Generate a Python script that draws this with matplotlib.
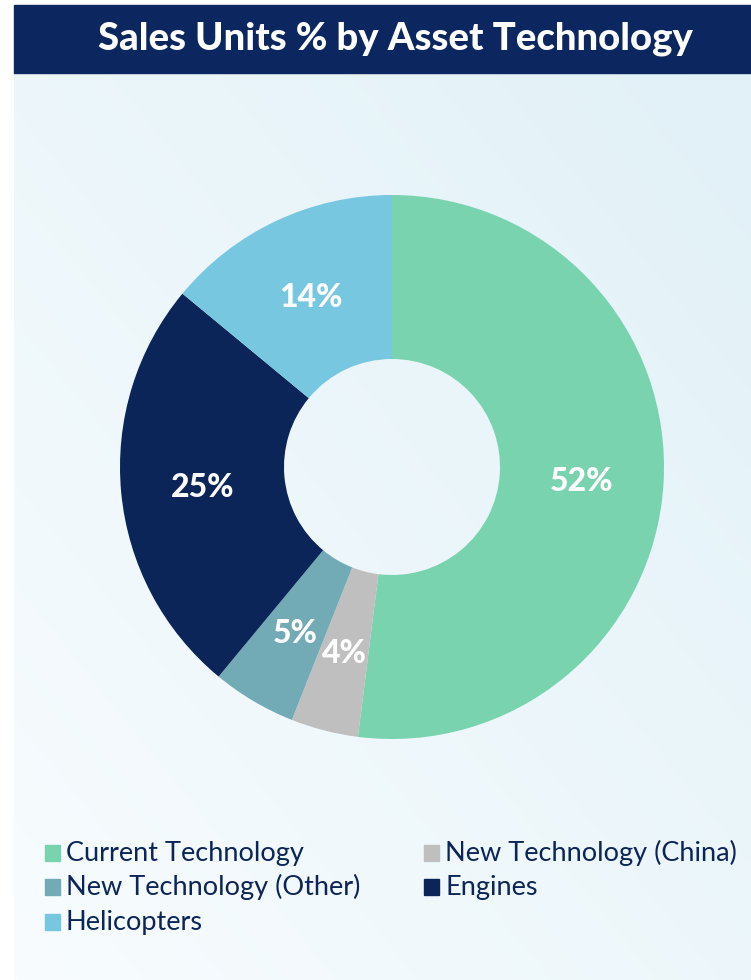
import numpy as np
import matplotlib.pyplot as plt
from matplotlib.patches import Rectangle

# Data
labels = ["Current Technology", "New Technology (China)", "New Technology (Other)",
          "Engines", "Helicopters"]
shares = [52, 4, 5, 25, 14]
colors = ["#79D3AE", "#BFBFBF", "#72AAB6", "#0B2559", "#78C7E0"]
title = "Sales Units % by Asset Technology"

W, H = 751, 980
fig = plt.figure(figsize=(W / 100, H / 100), dpi=100)
fig.patch.set_facecolor("white")

# background panel with a soft diagonal gradient
bg = fig.add_axes([0, 0, 1, 1])
bg.set_xlim(0, W)
bg.set_ylim(H, 0)
bg.axis("off")
yy, xx = np.mgrid[0:1:200j, 0:1:200j]
t = np.clip((xx + (1 - yy)) / 2, 0, 1)  # 0 bottom-left, 1 top-right
c0 = np.array([0xF8, 0xFC, 0xFE]) / 255
c1 = np.array([0xE1, 0xF1, 0xF7]) / 255
img = c0[None, None, :] * (1 - t[..., None]) + c1[None, None, :] * t[..., None]
bg.imshow(img, extent=[14, W, H, 73], origin="upper", aspect="auto", zorder=0)

# title bar
bg.add_patch(Rectangle((14, 5), W - 14, 68, color="#0C2660", zorder=1))
bg.text(395, 39, title, ha="center", va="center", color="white",
        fontsize=27.5, fontweight="black", family="Lato", zorder=2)

# donut
cx, cy, R, r_in = 392, 467, 272, 108
ax = fig.add_axes([(cx - R) / W, (H - cy - R) / H, 2 * R / W, 2 * R / H])
ax.set_facecolor("none")
wedges, _ = ax.pie(shares, colors=colors, startangle=90, counterclock=False,
                   radius=1, wedgeprops=dict(width=1 - r_in / R, linewidth=0))
ax.set_xlim(-1, 1)
ax.set_ylim(-1, 1)
lab_r = (1 + r_in / R) / 2
for w, s in zip(wedges, shares):
    ang = np.deg2rad((w.theta1 + w.theta2) / 2)
    ax.text(lab_r * np.cos(ang), lab_r * np.sin(ang) - 0.01, f"{s}%", ha="center",
            va="center", color="white", fontsize=23, fontweight="black", family="Lato")

# legend
pos = [(45, 853), (424, 853), (45, 887), (424, 887), (45, 922)]
for (x, y), lab, col in zip(pos, labels, colors):
    bg.add_patch(Rectangle((x, y - 8), 15, 16, color=col, zorder=2))
    bg.text(x + 21, y, lab, ha="left", va="center", color="#0B2559",
            fontsize=19.5, family="Lato", zorder=2)

fig.savefig("out.png", dpi=100)
